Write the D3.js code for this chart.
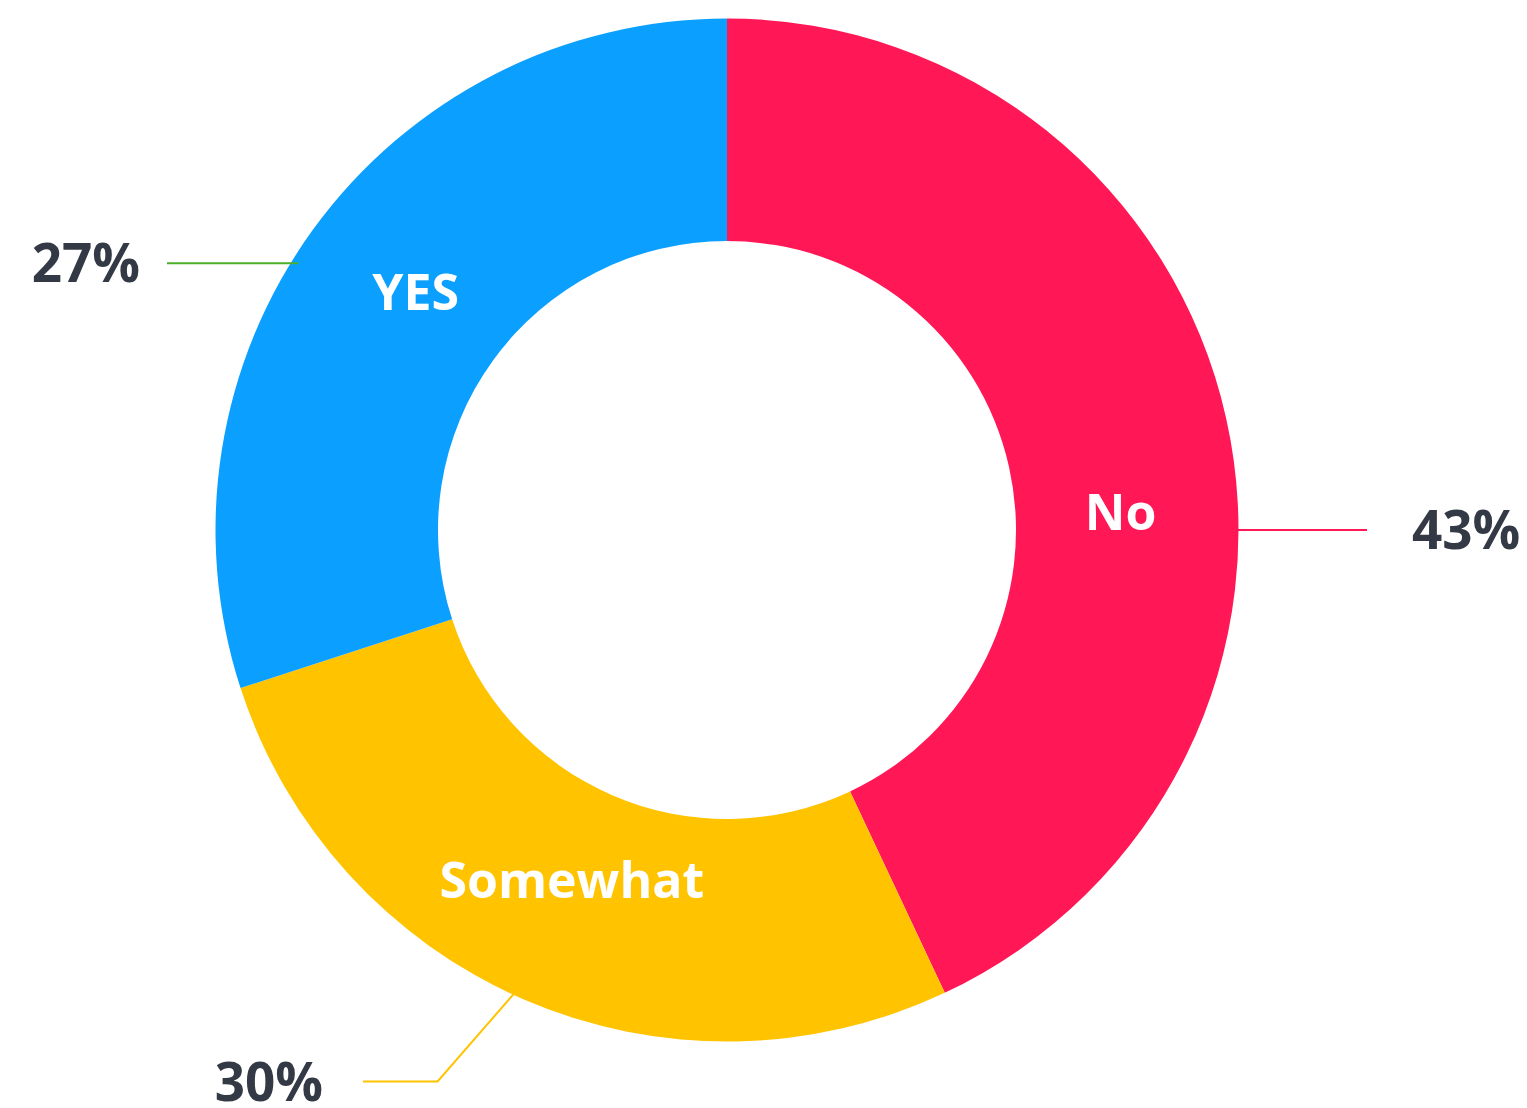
<!DOCTYPE html>
<html>
<head>
<meta charset="utf-8">
<script src="https://cdn.jsdelivr.net/npm/d3@7"></script>
<style>
  html, body { margin: 0; padding: 0; background: #fff; }
  svg { display: block; }
  text { font-family: "Open Sans", Lato, sans-serif; font-weight: 700; }
</style>
</head>
<body>
<svg id="chart"></svg>
<script>
/* ------------------ data ------------------ */

const categories = ["No", "Somewhat", "YES"];
const shares = [43, 27, 30];                   // slice sizes as drawn in the ring
const calloutLabels = ["43%", "30%", "27%"];   // figures printed beside the ring

/* ------------------ layout / style ------------------ */

const WIDTH = 1527;
const HEIGHT = 1108;
const CX = 727;
const CY = 530;
const OUTER_R = 511.5;
const INNER_R = 289;
const ANCHOR_R = 505;

const SLICE_COLORS = ["#ff1756", "#ffc300", "#0ba0ff"];
const LINE_COLORS = ["#ff1756", "#ffc300", "#4caf2a"];
const TEXT_DARK = "#343a45";

const INNER_FONT = 50;
const OUTER_FONT = 53;

// small per-slice tweaks (degrees / px) so labels sit where the original put them
const LABEL_POS = [
  { nudge: 10, r: 394 },
  { nudge: 0.5, r: 383 },
  { nudge: 1.4, r: 392 }
];
const CALLOUT = [
  { nudge: 12.6, bend: [0, 0], end: 640, gap: 45 },
  { nudge: 1.1, bend: [-80, 92], end: -364, gap: 40 },
  { nudge: -4.1, bend: [0, 0], end: -560, gap: 27 }
];

/* ------------------ build ------------------ */

const rad = d => d * Math.PI / 180;

const slices = categories.map((c, i) => ({ name: c, value: shares[i], i }));

const pie = d3.pie()
  .value(d => d.value)
  .sort(null)
  .startAngle(0)
  .endAngle(2 * Math.PI);

const arcs = pie(slices);

const arc = d3.arc()
  .innerRadius(INNER_R)
  .outerRadius(OUTER_R);

function polar(angle, r) {
  return [Math.sin(angle) * r, -Math.cos(angle) * r];
}

/* ------------------ render ------------------ */

const svg = d3.select("#chart")
  .attr("width", WIDTH)
  .attr("height", HEIGHT);

const g = svg.append("g")
  .attr("transform", `translate(${CX}, ${CY})`);

g.append("g")
  .selectAll("path")
  .data(arcs)
  .join("path")
  .attr("d", arc)
  .attr("fill", d => SLICE_COLORS[d.data.i]);

// inner category labels
g.append("g")
  .selectAll("text")
  .data(arcs)
  .join("text")
  .attr("transform", d => {
    const p = LABEL_POS[d.data.i];
    const a = (d.startAngle + d.endAngle) / 2 + rad(p.nudge);
    const [x, y] = polar(a, p.r);
    return `translate(${x}, ${y})`;
  })
  .attr("text-anchor", "middle")
  .attr("dy", "0.36em")
  .attr("fill", "#fff")
  .attr("font-size", INNER_FONT)
  .text(d => d.data.name);

// callouts
const callouts = arcs.map(d => {
  const c = CALLOUT[d.data.i];
  const a = (d.startAngle + d.endAngle) / 2 + rad(c.nudge);
  const p0 = polar(a, ANCHOR_R);
  const p1 = [p0[0] + c.bend[0], p0[1] + c.bend[1]];
  const p2 = [c.end, p1[1]];
  return { d, c, pts: [p0, p1, p2], right: c.end > 0 };
});

g.append("g")
  .selectAll("path")
  .data(callouts)
  .join("path")
  .attr("d", o => d3.line()(o.pts))
  .attr("fill", "none")
  .attr("stroke", o => LINE_COLORS[o.d.data.i])
  .attr("stroke-width", 2);

g.append("g")
  .selectAll("text")
  .data(callouts)
  .join("text")
  .attr("x", o => o.right ? o.c.end + o.c.gap : o.c.end - o.c.gap)
  .attr("y", o => o.pts[2][1])
  .attr("dy", "0.36em")
  .attr("text-anchor", o => o.right ? "start" : "end")
  .attr("fill", TEXT_DARK)
  .attr("font-size", OUTER_FONT)
  .text(o => calloutLabels[o.d.data.i]);
</script>
</body>
</html>
